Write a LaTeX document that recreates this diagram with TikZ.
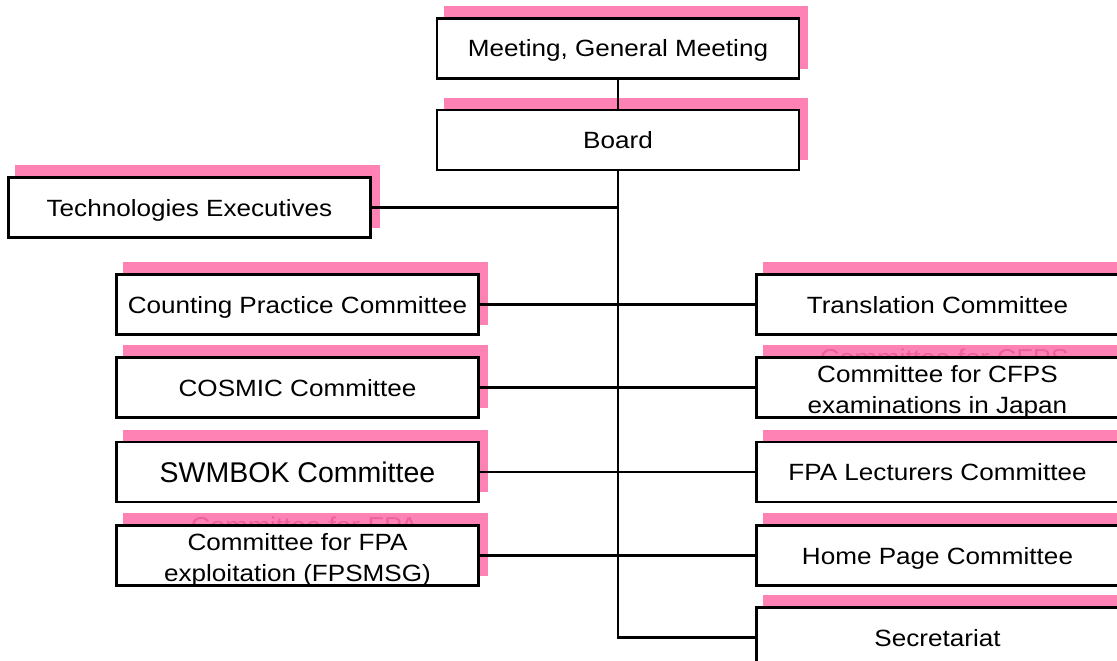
\documentclass[tikz,border=0pt]{standalone}
\usepackage{fontspec}
\setmainfont{Liberation Sans}[FakeStretch=1.11]
\newfontfamily\bigfont{Liberation Sans}
\usetikzlibrary{backgrounds,calc}
\definecolor{shadowpink}{RGB}{255,130,180}
\definecolor{ghostpink}{RGB}{238,96,156}
\begin{document}
\begin{tikzpicture}[x=1pt,y=-1pt,
  box/.style={draw=black, line width=2.2pt, fill=white, minimum width=362pt,
    minimum height=60pt, inner sep=0pt, font=\fontsize{23.5}{31}\selectfont,
    text height=17pt, text depth=0pt},
  bigbox/.style={box, font=\bigfont\fontsize{28.5}{34}\selectfont, text height=20.5pt},
  twotext/.style={align=center, inner sep=0pt, font=\fontsize{23.5}{31}\selectfont},
  ghosttext/.style={inner sep=0pt, text=ghostpink, font=\fontsize{24.3}{32}\selectfont,
    text height=17.5pt, text depth=0pt},
  conn/.style={draw=black, line width=2.2pt}]
\useasboundingbox (0,0) rectangle (1117,661);

% boxes
\node[box] (meet)  at (618,48.5)   {Meeting, General Meeting};
\node[box] (board) at (618,140)    {Board};
\node[box] (tech)  at (189.5,207.5){Technologies Executives};
\node[box] (count) at (297.5,304.5){Counting Practice Committee};
\node[box] (cosmic)at (297.5,387.5){COSMIC Committee};
\node[bigbox] (swm)at (297.5,472)  {SWMBOK Committee};
\node[box] (fpaex) at (297.5,555.5){};
\node[box] (trans) at (937.5,304.5){Translation Committee};
\node[box] (cfps)  at (937.5,387.5){};
\node[box] (lect)  at (937.5,472)  {FPA Lecturers Committee};
\node[box] (home)  at (937.5,555.5){Home Page Committee};
\node[box] (sec)   at (937.5,637.5){Secretariat};

% two-line texts
\node[twotext] (cfpsT) at ($(cfps.center)+(0,4)$) {Committee for CFPS\\examinations in Japan};
\node[twotext] (fpaexT) at ($(fpaex.center)+(0,4)$) {Committee for FPA\\exploitation (FPSMSG)};

% shadows and ghost texts behind
\begin{pgfonlayer}{background}
\foreach \n in {meet,board,tech,count,cosmic,swm,fpaex,trans,cfps,lect,home,sec}
  \fill[shadowpink] ($(\n.south west)+(8,-11)$) rectangle ($(\n.north east)+(8,-11)$);
\node[ghosttext] (cfpsG) at ($(cfps.north)+(7,1.5)$) {Committee for CFPS};
\node[ghosttext] (fpaexG) at ($(fpaex.north)+(7,1.5)$) {Committee for FPA};
\end{pgfonlayer}

% connectors
\draw[conn] (meet.south) -- (board.north);
\draw[conn] (board.south) |- (sec.west);
\draw[conn] (tech.east) -- (tech.east -| board.south);
\draw[conn] (count.east) -- (trans.west);
\draw[conn] (cosmic.east) -- (cfps.west);
\draw[conn] (swm.east) -- (lect.west);
\draw[conn] (fpaex.east) -- (home.west);
\end{tikzpicture}
\end{document}
